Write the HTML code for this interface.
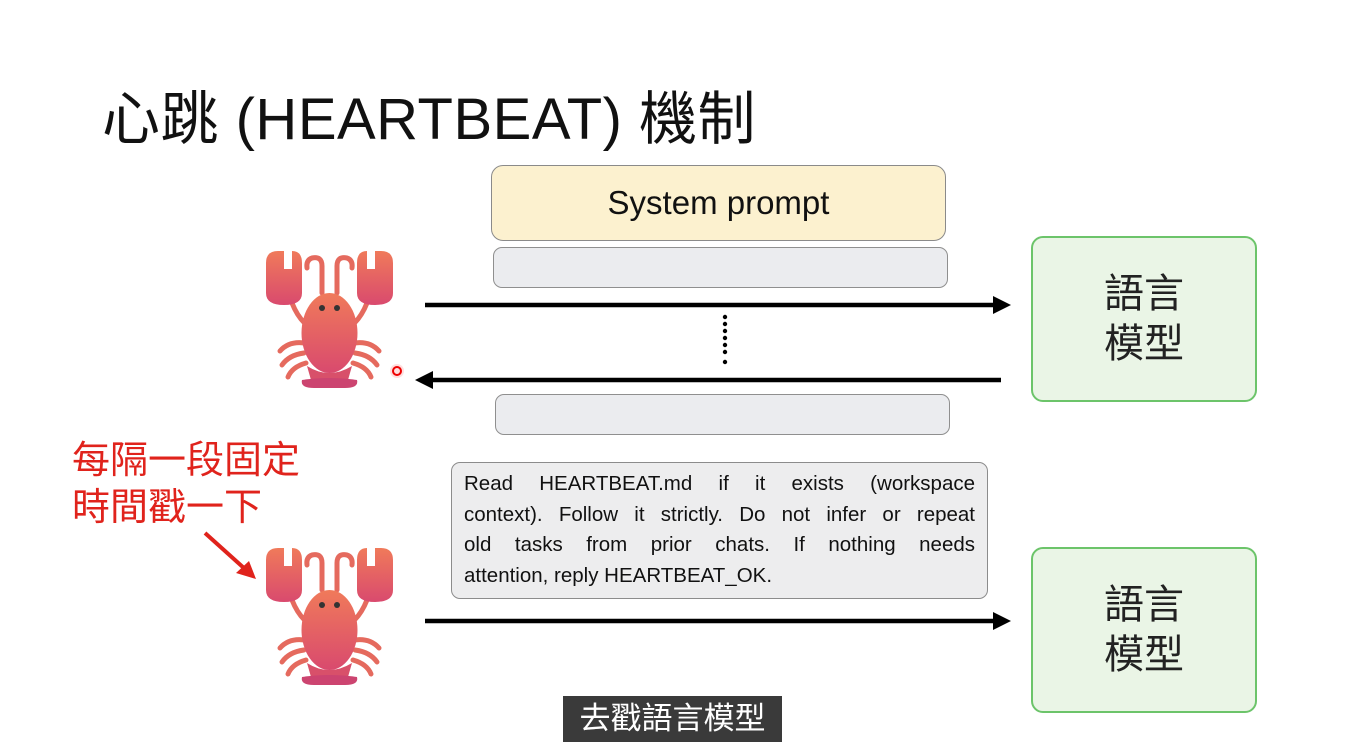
<!DOCTYPE html>
<html><head><meta charset="utf-8"><style>
body{margin:0;width:1345px;height:755px;background:#fff;position:relative;overflow:hidden;font-family:"Liberation Sans","Noto Sans CJK TC",sans-serif}
.a{position:absolute}
.title{left:102px;top:72px;font-size:58px;letter-spacing:0.5px;color:#111;white-space:nowrap;font-family:"Liberation Sans","Noto Sans CJK TC",sans-serif}
.sys{left:491px;top:165px;width:453px;height:74px;background:#fcf1cf;border:1.5px solid #8a8a8a;border-radius:12px;text-align:center;line-height:74px;font-size:33px;color:#111}
.gray{background:#ebecef;border:1.5px solid #8f8f8f;border-radius:9px;height:39px;width:453px}
.green{left:1031px;width:222px;height:162px;background:#eaf5e6;border:2.5px solid #6cc46a;border-radius:12px;font-size:40px;color:#222;text-align:center;line-height:50px;display:flex;align-items:center;justify-content:center}
.tb{left:451px;top:462px;width:511px;height:123px;padding:6px 12px;background:#ededee;border:1.5px solid #8c8c8c;border-radius:9px;font-size:20.5px;color:#111;line-height:30.5px}
.tb div{text-align:justify;text-align-last:justify;white-space:nowrap}
.tb div.l{text-align-last:left}
.red{left:72px;top:438px;font-size:38px;color:#e0231c;line-height:47px}
.cap{left:563px;top:696px;width:219px;height:46px;background:#3a3a3a;color:#fff;font-size:31px;line-height:46px;text-align:center}
</style></head><body>
<div class="a title">心跳 (HEARTBEAT) 機制</div>
<div class="a sys">System prompt</div>
<div class="a gray" style="left:493px;top:247px"></div>
<div class="a gray" style="left:495px;top:394px"></div>
<div class="a green" style="top:236px">語言<br>模型</div>
<div class="a green" style="top:547px">語言<br>模型</div>
<div class="a tb"><div>Read HEARTBEAT.md if it exists (workspace</div><div>context). Follow it strictly. Do not infer or repeat</div><div>old tasks from prior chats. If nothing needs</div><div class="l">attention, reply HEARTBEAT_OK.</div></div>
<div class="a red">每隔一段固定<br>時間戳一下</div>
<div class="a cap">去戳語言模型</div>
<svg class="a" style="left:0;top:0" width="1345" height="755">
<defs>
<linearGradient id="lg" x1="0" y1="0" x2="0" y2="1"><stop offset="0" stop-color="#f07a5a"/><stop offset="1" stop-color="#d94a6e"/></linearGradient>
<g id="lob">
<g stroke="#e56a5e" stroke-width="5" fill="none" stroke-linecap="round">
<path d="M60 45 V18 q0-10 -10 -8 q-6 2 -5 10"/><path d="M75 45 V18 q0-10 10 -8 q6 2 5 10"/>
<path d="M30 55 q10 25 30 30"/><path d="M105 55 q-10 25 -30 30"/>
<path d="M42 95 q-15 -2 -24 8"/><path d="M42 105 q-15 2 -22 12"/><path d="M44 115 q-14 4 -18 14"/>
<path d="M93 95 q15 -2 24 8"/><path d="M93 105 q15 2 22 12"/><path d="M91 115 q14 4 18 14"/>
</g>
<path d="M4 15 q0-12 12-12 h6 v18 h8 v-18 q10 0 10 12 v30 q0 12 -18 12 q-18 0 -18 -12z" fill="url(#lg)"/>
<path d="M131 15 q0-12 -12-12 h-6 v18 h-8 v-18 q-10 0 -10 12 v30 q0 12 18 12 q18 0 18 -12z" fill="url(#lg)"/>
<ellipse cx="67.5" cy="85" rx="28" ry="40" fill="url(#lg)"/>
<path d="M45 118 q22 14 45 0 l-4 14 q-18 8 -37 0z" fill="#d8506a"/>
<path d="M40 132 q27 -4 55 0 q2 8 -12 8 h-31 q-14 0 -12 -8z" fill="#cc4470"/>
<circle cx="60" cy="60" r="3" fill="#333"/><circle cx="75" cy="60" r="3" fill="#333"/>
</g>
</defs>
<use href="#lob" x="262" y="248"/>
<use href="#lob" x="262" y="545"/>
<g stroke="#000" stroke-width="4.5">
<line x1="425" y1="305" x2="995" y2="305"/>
<line x1="432" y1="380" x2="1001" y2="380"/>
<line x1="425" y1="621" x2="995" y2="621"/>
</g>
<path d="M993 296 L1011 305 L993 314z" fill="#000"/>
<path d="M433 371 L415 380 L433 389z" fill="#000"/>
<path d="M993 612 L1011 621 L993 630z" fill="#000"/>
<g fill="#000"><circle cx="725" cy="317" r="2.2"/><circle cx="725" cy="324" r="2.2"/><circle cx="725" cy="331" r="2.2"/><circle cx="725" cy="338" r="2.2"/><circle cx="725" cy="345" r="2.2"/><circle cx="725" cy="352" r="2.2"/><circle cx="725" cy="362" r="2.2"/></g>
<line x1="205" y1="533" x2="245" y2="569" stroke="#e0231c" stroke-width="4"/>
<path d="M256 579 L236 573 L249 561z" fill="#e0231c"/>
<circle cx="397" cy="371" r="7" fill="#ffdede"/><circle cx="397" cy="371" r="4" fill="none" stroke="#e00" stroke-width="2"/>
</svg>
</body></html>
